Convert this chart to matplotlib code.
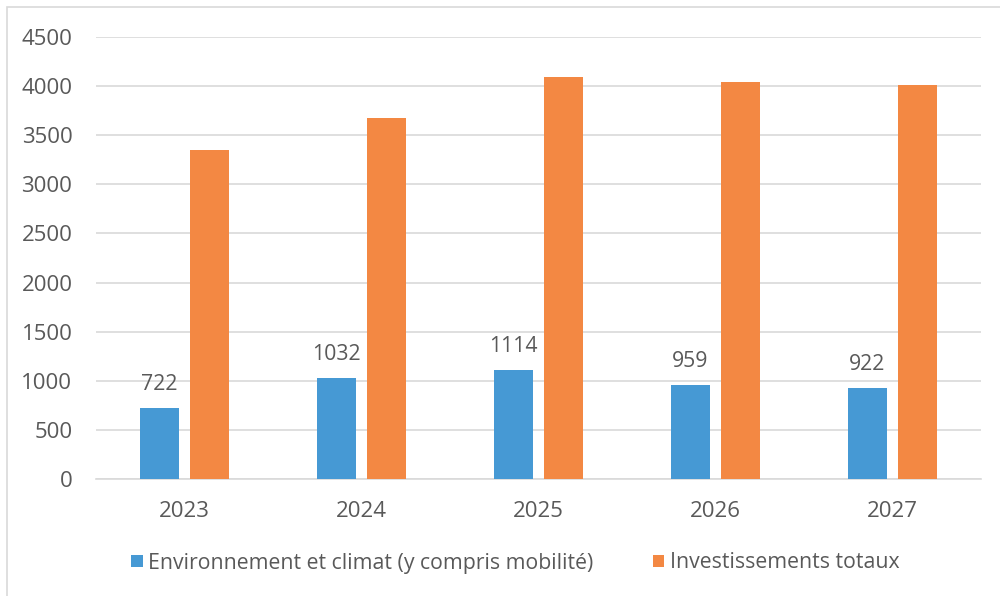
import matplotlib
matplotlib.use("Agg")
import matplotlib.pyplot as plt
import numpy as np
from matplotlib.patches import Rectangle

years = ["2023", "2024", "2025", "2026", "2027"]
env_climat = [722, 1032, 1114, 959, 922]
invest_totaux = [3350, 3675, 4092, 4038, 4010]
yticks = [0, 500, 1000, 1500, 2000, 2500, 3000, 3500, 4000, 4500]

label_env = "Environnement et climat (y compris mobilité)"
label_inv = "Investissements totaux"
c_blue = "#4699D4"
c_orange = "#F38843"
txt = "#595959"
grid = "#D9D9D9"

plt.rcParams['font.family'] = ['Open Sans', 'DejaVu Sans']

fig = plt.figure(figsize=(10, 5.96), dpi=100)
ax = fig.add_axes([0.096, 1 - 479/596, 0.885, 442/596])

x = np.arange(len(years))
w = 0.223
gap = 0.062
off = (w + gap) / 2
b1 = ax.bar(x - off, env_climat, w, color=c_blue, label=label_env, zorder=3)
b2 = ax.bar(x + off, invest_totaux, w, color=c_orange, label=label_inv, zorder=3)

for rect, v in zip(b1, env_climat):
    ax.text(rect.get_x() + rect.get_width()/2, v + 240, str(v), ha='center', va='center',
            fontsize=15.3, color=txt)

ax.set_xlim(-0.5, len(years) - 0.5)
ax.set_ylim(0, 4500)
ax.set_yticks(yticks)
ax.set_xticks(x)
ax.set_xticklabels(years)
ax.yaxis.grid(True, color=grid, linewidth=1.2, zorder=0)
ax.set_axisbelow(True)
for s in ['top', 'right', 'left']:
    ax.spines[s].set_visible(False)
ax.spines['bottom'].set_color(grid)
ax.spines['bottom'].set_linewidth(1.2)
ax.tick_params(axis='both', length=0, labelsize=16, labelcolor=txt)
ax.tick_params(axis='y', pad=17)
ax.tick_params(axis='x', pad=16)

leg = fig.legend(handles=[b1, b2], labels=[label_env, label_inv], loc='center',
                 bbox_to_anchor=(0.515, 1 - 563/596), ncol=2, frameon=False,
                 fontsize=15.3, handlelength=0.55, handleheight=0.55, handletextpad=0.25,
                 columnspacing=2.8, labelcolor=txt)

fig.patches.append(Rectangle((7/1000, -0.1), 1.1, 1 - 7/596 + 0.1, transform=fig.transFigure,
                             fill=False, edgecolor=grid, linewidth=1.2))

fig.savefig("out.png", dpi=100)
